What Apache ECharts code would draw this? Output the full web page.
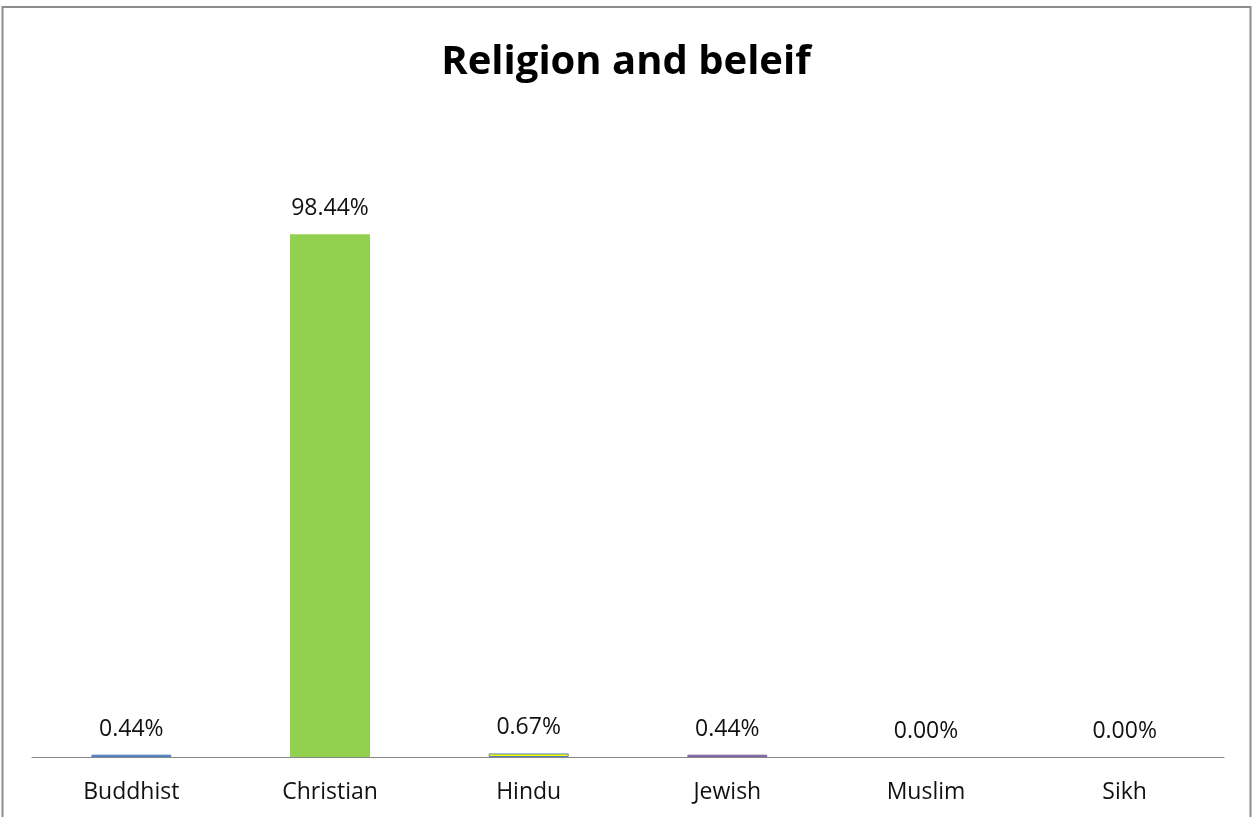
<!DOCTYPE html>
<html><head><meta charset="utf-8">
<script src="https://cdn.jsdelivr.net/npm/echarts@6/dist/echarts.min.js"></script>
<style>html,body{margin:0;padding:0;background:#fff;}#c{width:1252px;height:817px;}</style>
</head><body><div id="c"></div>
<script>
const categories = ['Buddhist', 'Christian', 'Hindu', 'Jewish', 'Muslim', 'Sikh'];
const values = [0.44, 98.44, 0.67, 0.44, 0.00, 0.00];
const fillColors = ['#4F81BD', '#92D050', '#FFFF00', '#8064A2', '#4F81BD', '#4F81BD'];
const borderColors = ['#4F81BD', '#92D050', '#4F81BD', '#8064A2', '#4F81BD', '#4F81BD'];
const titleText = 'Religion and beleif';

const chart = echarts.init(document.getElementById('c'));
chart.setOption({
  animation: false,
  backgroundColor: '#fff',
  title: {
    text: titleText, left: 'center', top: 38,
    textStyle: { fontFamily: 'Open Sans', fontWeight: 'bold', fontSize: 40, color: '#000' }
  },
  graphic: [{
    type: 'rect', shape: { x: 2.5, y: 7, width: 1248, height: 830 },
    style: { fill: 'none', stroke: '#8c8c8c', lineWidth: 2 }, silent: true
  }],
  grid: { left: 32, right: 28, top: 226, bottom: 60, containLabel: false },
  xAxis: {
    type: 'category', data: categories,
    axisLine: { lineStyle: { color: '#868686', width: 1 } },
    axisTick: { show: false },
    axisLabel: { fontFamily: 'Open Sans', fontSize: 23, color: '#111', margin: 24 }
  },
  yAxis: { type: 'value', min: 0, max: 100, show: false, splitLine: { show: false } },
  series: [{
    type: 'bar', barWidth: 80,
    data: values.map((v, i) => ({
      value: v,
      itemStyle: {
        color: v === 0 ? 'transparent' : fillColors[i],
        borderColor: borderColors[i],
        borderWidth: (i === 1 || v === 0) ? 0 : 1
      }
    })),
    label: {
      show: true, position: 'top', distance: 14,
      formatter: p => p.value.toFixed(2) + '%',
      fontFamily: 'Open Sans', fontSize: 23, color: '#111'
    }
  }]
});
</script></body></html>
